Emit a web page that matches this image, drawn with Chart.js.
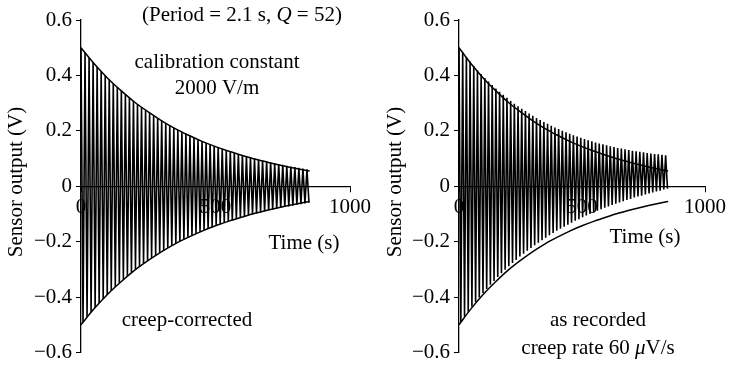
<!DOCTYPE html>
<html>
<head>
<meta charset="utf-8">
<script src="https://cdn.jsdelivr.net/npm/chart.js@4.4.1/dist/chart.umd.min.js"></script>
<style>
    html, body { margin: 0; padding: 0; background: #fff; }
    #wrap { position: relative; width: 730px; height: 369px; overflow: hidden; background: #fff; }
    #graficoEsq { position: absolute; left: 0; top: 0; z-index: 2; }
    #graficoDir { position: absolute; left: 365px; top: 0; z-index: 1; }
</style>
</head>
<body>
<div id="wrap">
    <canvas id="graficoDir" width="365" height="369"></canvas>
    <canvas id="graficoEsq" width="400" height="369"></canvas>
</div>
<script>
// ===== DADOS =====
const sampleTimes = [
    0, 7.5, 15, 22.5, 30, 37.5, 45, 52.5, 60, 67.5,
    75, 82.5, 90, 97.5, 105, 112.5, 120, 127.5, 135, 142.5,
    150, 157.5, 165, 172.5, 180, 187.5, 195, 202.5, 210, 217.5,
    225, 232.5, 240, 247.5, 255, 262.5, 270, 277.5, 285, 292.5,
    300, 307.5, 315, 322.5, 330, 337.5, 345, 352.5, 360, 367.5,
    375, 382.5, 390, 397.5, 405, 412.5, 420, 427.5, 435, 442.5,
    450, 457.5, 465, 472.5, 480, 487.5, 495, 502.5, 510, 517.5,
    525, 532.5, 540, 547.5, 555, 562.5, 570, 577.5, 585, 592.5,
    600, 607.5, 615, 622.5, 630, 637.5, 645, 652.5, 660, 667.5,
    675, 682.5, 690, 697.5, 705, 712.5, 720, 727.5, 735, 742.5,
    750, 757.5, 765, 772.5, 780, 787.5, 795, 802.5, 810, 817.5,
    825, 832.5, 840, 847.5
];

// creep-corrected output (V)
const correctedOutput = [
    0.500, -0.491, 0.482, -0.473, 0.464, -0.455, 0.447, -0.439, 0.430, -0.422,
    0.415, -0.407, 0.399, -0.392, 0.385, -0.377, 0.370, -0.364, 0.357, -0.350,
    0.344, -0.337, 0.331, -0.325, 0.319, -0.313, 0.307, -0.301, 0.296, -0.290,
    0.285, -0.280, 0.274, -0.269, 0.264, -0.259, 0.255, -0.250, 0.245, -0.241,
    0.236, -0.232, 0.228, -0.223, 0.219, -0.215, 0.211, -0.207, 0.203, -0.200,
    0.196, -0.192, 0.189, -0.185, 0.182, -0.178, 0.175, -0.172, 0.169, -0.165,
    0.162, -0.159, 0.156, -0.154, 0.151, -0.148, 0.145, -0.142, 0.140, -0.137,
    0.135, -0.132, 0.130, -0.127, 0.125, -0.123, 0.120, -0.118, 0.116, -0.114,
    0.112, -0.110, 0.108, -0.106, 0.104, -0.102, 0.100, -0.098, 0.096, -0.094,
    0.093, -0.091, 0.089, -0.087, 0.086, -0.084, 0.083, -0.081, 0.080, -0.078,
    0.077, -0.075, 0.074, -0.073, 0.071, -0.070, 0.069, -0.067, 0.066, -0.065,
    0.064, -0.062, 0.061, -0.060
];

// output as recorded (V), with the creep drift
const recordedOutput = [
    0.500, -0.490, 0.483, -0.471, 0.466, -0.453, 0.450, -0.435, 0.434, -0.418,
    0.419, -0.402, 0.405, -0.386, 0.391, -0.371, 0.378, -0.356, 0.365, -0.342,
    0.353, -0.328, 0.341, -0.314, 0.330, -0.302, 0.319, -0.289, 0.308, -0.277,
    0.298, -0.266, 0.289, -0.254, 0.280, -0.244, 0.271, -0.233, 0.262, -0.223,
    0.254, -0.213, 0.246, -0.204, 0.239, -0.195, 0.232, -0.186, 0.225, -0.177,
    0.218, -0.169, 0.212, -0.161, 0.206, -0.154, 0.200, -0.146, 0.195, -0.139,
    0.189, -0.132, 0.184, -0.125, 0.179, -0.119, 0.175, -0.112, 0.170, -0.106,
    0.166, -0.100, 0.162, -0.094, 0.158, -0.089, 0.154, -0.083, 0.151, -0.078,
    0.148, -0.073, 0.144, -0.068, 0.141, -0.063, 0.138, -0.059, 0.136, -0.054,
    0.133, -0.050, 0.131, -0.046, 0.128, -0.041, 0.126, -0.037, 0.124, -0.034,
    0.122, -0.030, 0.120, -0.026, 0.118, -0.023, 0.116, -0.019, 0.115, -0.016,
    0.113, -0.012, 0.112, -0.009
];

// decay envelope
const envelopeTimes = [0, 50, 100, 150, 200, 250, 300, 350, 400, 450, 500, 550, 600, 650, 700, 750, 800, 850];
const envelopeUpper = [0.500, 0.441, 0.389, 0.344, 0.303, 0.268, 0.236, 0.208, 0.184, 0.162, 0.143, 0.126, 0.111, 0.097, 0.085, 0.074, 0.064, 0.055];
const envelopeLower = [-0.500, -0.441, -0.389, -0.344, -0.303, -0.268, -0.236, -0.208, -0.184, -0.162, -0.143, -0.126, -0.111, -0.097, -0.085, -0.074, -0.064, -0.055];

const xTicks = [0, 500, 1000];
const yTicks = [-0.6, -0.4, -0.2, 0, 0.2, 0.4, 0.6];

// ===== ESTILO =====
const FONTE = '21px "Liberation Serif", "Times New Roman", serif';
const FONTE_ITALICA = 'italic 21px "Liberation Serif", "Times New Roman", serif';

function pares(xs, ys) {
    return xs.map((x, i) => ({ x: x, y: ys[i] }));
}

function formatarTick(valor) {
    if (Math.abs(valor) < 1e-9) return '0';
    return (valor < 0 ? '\u2212' : '') + Math.abs(valor).toFixed(1);
}

// desenha um texto com trechos em itálico, centrado em (cx, cy)
function desenharTexto(ctx, trechos, cx, cy, girar) {
    ctx.save();
    ctx.fillStyle = '#000';
    ctx.textBaseline = 'middle';
    ctx.textAlign = 'left';
    let total = 0;
    trechos.forEach(t => {
        ctx.font = t.it ? FONTE_ITALICA : FONTE;
        total += ctx.measureText(t.s).width;
    });
    ctx.translate(cx, cy);
    if (girar) ctx.rotate(-Math.PI / 2);
    let x = -total / 2;
    trechos.forEach(t => {
        ctx.font = t.it ? FONTE_ITALICA : FONTE;
        ctx.fillText(t.s, x, 0);
        x += ctx.measureText(t.s).width;
    });
    ctx.restore();
}

const pluginNotas = {
    id: 'notas',
    afterDraw(chart, args, opts) {
        const ctx = chart.ctx;
        (opts.itens || []).forEach(n => desenharTexto(ctx, n.trechos, n.x, n.y, n.girar));
    }
};

// ===== GRÁFICO =====
function criarPainel(canvasId, sinal, larguraEixoY, margemDireita, notas) {
    const ctx = document.getElementById(canvasId).getContext('2d');
    const linha = { borderColor: '#000', pointRadius: 0, fill: false };

    return new Chart(ctx, {
        type: 'line',
        data: {
            datasets: [
                Object.assign({ data: pares(sampleTimes, sinal), borderWidth: 1.6, tension: 0 }, linha),
                Object.assign({ data: pares(envelopeTimes, envelopeUpper), borderWidth: 1.5, cubicInterpolationMode: 'monotone' }, linha),
                Object.assign({ data: pares(envelopeTimes, envelopeLower), borderWidth: 1.5, cubicInterpolationMode: 'monotone' }, linha)
            ]
        },
        options: {
            responsive: false,
            animation: false,
            devicePixelRatio: 1,
            layout: { padding: { left: 0, right: margemDireita, top: 20, bottom: 14 } },
            plugins: {
                legend: { display: false },
                tooltip: { enabled: false },
                notas: { itens: notas }
            },
            scales: {
                x: {
                    type: 'linear',
                    min: 0,
                    max: 1000,
                    position: { y: 0 },
                    afterBuildTicks: s => { s.ticks = xTicks.map(v => ({ value: v })); },
                    ticks: {
                        color: '#000',
                        font: { family: '"Liberation Serif", serif', size: 21 },
                        padding: 4,
                        maxRotation: 0,
                        autoSkip: false,
                        callback: v => String(v)
                    },
                    grid: { drawOnChartArea: false, tickLength: 5, color: '#000' },
                    border: { color: '#000', width: 1.3 }
                },
                y: {
                    min: -0.6,
                    max: 0.6,
                    afterFit: s => { s.width = larguraEixoY; },
                    afterBuildTicks: s => { s.ticks = yTicks.map(v => ({ value: v })); },
                    ticks: { color: '#000', font: { family: '"Liberation Serif", serif', size: 21 }, padding: 4, callback: formatarTick },
                    grid: { drawOnChartArea: false, tickLength: 5, color: '#000' },
                    border: { color: '#000', width: 1.3 }
                }
            }
        },
        plugins: [pluginNotas]
    });
}

// ===== INICIALIZAÇÃO =====
const tituloY = [{ s: 'Sensor output (V)' }];

criarPainel('graficoEsq', correctedOutput, 81, 50, [
    { trechos: [{ s: '(Period = 2.1 s, ' }, { s: 'Q', it: true }, { s: ' = 52)' }], x: 242, y: 15 },
    { trechos: [{ s: 'calibration constant' }], x: 217, y: 62 },
    { trechos: [{ s: '2000 V/m' }], x: 217, y: 88 },
    { trechos: [{ s: 'Time (s)' }], x: 304, y: 243 },
    { trechos: [{ s: 'creep-corrected' }], x: 187, y: 320 },
    { trechos: tituloY, x: 16, y: 182, girar: true }
]);

criarPainel('graficoDir', recordedOutput, 94, 20, [
    { trechos: [{ s: 'Time (s)' }], x: 280, y: 237 },
    { trechos: [{ s: 'as recorded' }], x: 233, y: 320 },
    { trechos: [{ s: 'creep rate 60 ' }, { s: '\u03bc', it: true }, { s: 'V/s' }], x: 233, y: 348 },
    { trechos: tituloY, x: 30, y: 182, girar: true }
]);
</script>
</body>
</html>
